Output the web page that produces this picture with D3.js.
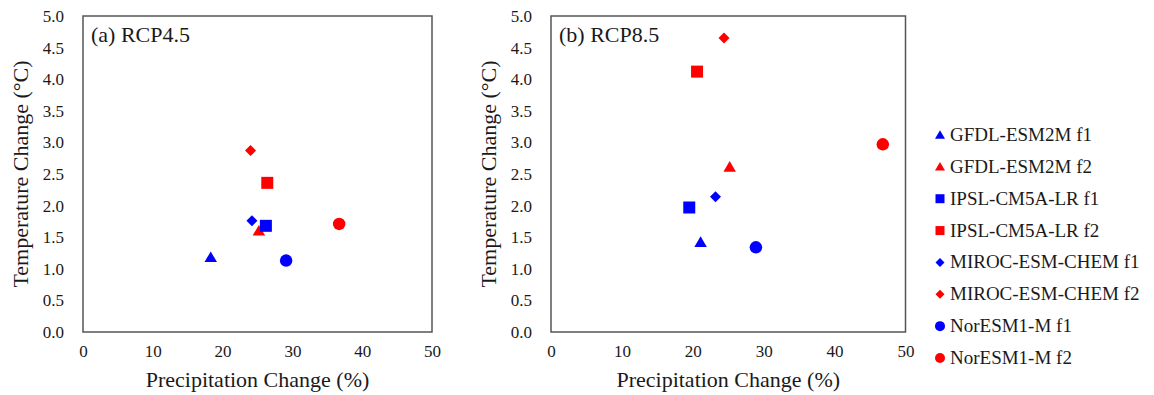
<!DOCTYPE html>
<html><head><meta charset="utf-8">
<script src="https://cdn.jsdelivr.net/npm/d3@7"></script>
<style>body{margin:0;background:#fff}svg{display:block}</style>
</head><body>
<svg id="c" width="1154" height="395"></svg>
<script>
const models = ["GFDL-ESM2M f1","GFDL-ESM2M f2","IPSL-CM5A-LR f1","IPSL-CM5A-LR f2","MIROC-ESM-CHEM f1","MIROC-ESM-CHEM f2","NorESM1-M f1","NorESM1-M f2"];
const shapes = ["triangle","triangle","square","square","diamond","diamond","circle","circle"];
const colors = ["#0000FF","#FF0000","#0000FF","#FF0000","#0000FF","#FF0000","#0000FF","#FF0000"];
const rcp45Precip = [18.3, 25.2, 26.2, 26.4, 24.2, 24.0, 29.1, 36.7];
const rcp45Temp   = [1.18, 1.60, 1.68, 2.36, 1.76, 2.87, 1.13, 1.71];
const rcp85Precip = [21.1, 25.2, 19.5, 20.6, 23.2, 24.4, 28.9, 46.8];
const rcp85Temp   = [1.42, 2.61, 1.97, 4.12, 2.14, 4.65, 1.34, 2.97];
const xTicks = [0,10,20,30,40,50];
const yTicks = [0,0.5,1,1.5,2,2.5,3,3.5,4,4.5,5];
const panelTitles = ["(a) RCP4.5","(b) RCP8.5"];

const svg = d3.select("#c");
const FONT = "'Liberation Serif','Times New Roman',serif";
const TXT = "#1a1a1a";

function markerPath(shape, s){
  const h = s/2;
  if(shape==="square") return `M${-h},${-h}H${h}V${h}H${-h}Z`;
  if(shape==="diamond") return `M0,${-h}L${h},0L0,${h}L${-h},0Z`;
  if(shape==="triangle") return `M0,${-h*0.95}L${h},${h*0.75}L${-h},${h*0.75}Z`;
  return d3.symbol(d3.symbolCircle, Math.PI*h*h)();
}
const markerSize = {square:12, diamond:11, triangle:12.5, circle:12.5};
const legendSize = {square:9, diamond:9, triangle:10, circle:10};

const panels = [
  {left:83, right:432, px:rcp45Precip, ty:rcp45Temp, title:panelTitles[0]},
  {left:551, right:905.5, px:rcp85Precip, ty:rcp85Temp, title:panelTitles[1]}
];
const plotTop = 16, plotBottom = 332;

panels.forEach(p=>{
  const x = d3.scaleLinear().domain([0,50]).range([p.left,p.right]);
  const y = d3.scaleLinear().domain([0,5]).range([plotBottom,plotTop]);
  const g = svg.append("g");

  const ya = g.append("g").attr("transform",`translate(${p.left},0)`)
    .call(d3.axisLeft(y).tickValues(yTicks).tickFormat(d3.format(".1f")).tickSize(0).tickPadding(19));
  ya.select(".domain").remove();
  ya.selectAll("text").attr("font-family",FONT).attr("font-size",17).attr("fill",TXT);

  const xa = g.append("g").attr("transform",`translate(0,${plotBottom})`)
    .call(d3.axisBottom(x).tickValues(xTicks).tickFormat(d3.format("d")).tickSize(0).tickPadding(13));
  xa.select(".domain").remove();
  xa.selectAll("text").attr("font-family",FONT).attr("font-size",17).attr("fill",TXT);

  g.append("rect").attr("x",p.left).attr("y",plotTop).attr("width",p.right-p.left).attr("height",plotBottom-plotTop)
    .attr("fill","none").attr("stroke","#555").attr("stroke-width",1.5);

  g.append("text").attr("x",p.left+8).attr("y",plotTop+26).text(p.title)
    .attr("font-family",FONT).attr("font-size",22).attr("fill",TXT);

  g.append("text").attr("x",(p.left+p.right)/2).attr("y",387).attr("text-anchor","middle")
    .text("Precipitation Change (%)").attr("font-family",FONT).attr("font-size",22).attr("fill",TXT);

  g.append("text").attr("transform",`translate(${p.left-55},${(plotTop+plotBottom)/2}) rotate(-90)`)
    .attr("text-anchor","middle").text("Temperature Change (°C)")
    .attr("font-family",FONT).attr("font-size",22).attr("fill",TXT);

  const pts = models.map((m,i)=>({m, shape:shapes[i], color:colors[i], px:p.px[i], ty:p.ty[i]}));
  g.selectAll("path.pt").data(pts).join("path").attr("class","pt")
    .attr("transform",d=>`translate(${x(d.px)},${y(d.ty)})`)
    .attr("d",d=>markerPath(d.shape, markerSize[d.shape]))
    .attr("fill",d=>d.color);
});

const leg = svg.append("g");
const ly = d3.scalePoint().domain(models).range([135,358]);
models.forEach((m,i)=>{
  leg.append("path").attr("transform",`translate(940,${ly(m)})`)
    .attr("d",markerPath(shapes[i], legendSize[shapes[i]])).attr("fill",colors[i]);
  leg.append("text").attr("x",950).attr("y",ly(m)+6).text(m)
    .attr("font-family",FONT).attr("font-size",19).attr("fill",TXT);
});
</script>
</body></html>
